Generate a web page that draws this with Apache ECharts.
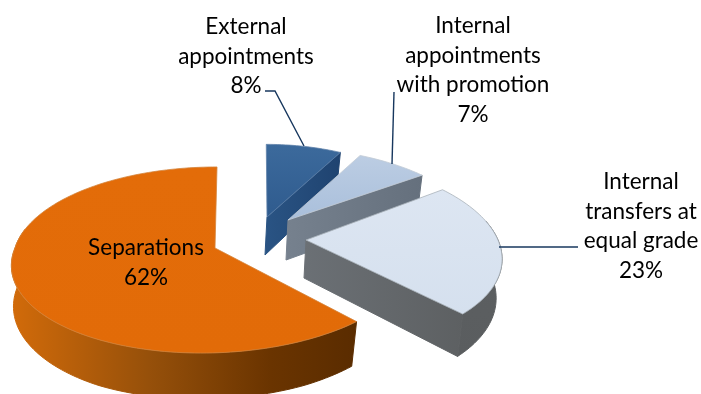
<!DOCTYPE html>
<html>
<head>
<meta charset="utf-8">
<title>Staff movements</title>
<style>
  html, body { margin: 0; padding: 0; background: #fff; }
  #chart { width: 701px; height: 394px; }
</style>
<script src="https://cdn.jsdelivr.net/npm/echarts@6/dist/echarts.min.js"></script>
</head>
<body>
<div id="chart"></div>
<script>
// Share of each movement type, clockwise from twelve o'clock.
const categories = ['External appointments', 'Internal appointments with promotion', 'Internal transfers at equal grade', 'Separations'];
const shares = [8, 7, 23, 62];
const labelLines = [
  ['External', 'appointments'],
  ['Internal', 'appointments', 'with promotion'],
  ['Internal', 'transfers at', 'equal grade'],
  ['Separations']
];

// Exploded-slice placement: apex, radii, extrusion depth and perspective lean.
const sliceLayout = [
  { ax: 267, ay: 217, rx: 171, ry: 82, depth: 38, lean: [0.01, 0.01] },
  { ax: 288, ay: 220, rx: 186, ry: 82, depth: 40, lean: [0.13, 0.13] },
  { ax: 306, ay: 240, rx: 192, ry: 92, depth: 38, lean: [0.157, 0.157] },
  { ax: 215, ay: 248, rx: 200, ry: 91.5, depth: 40, lean: [-0.025, -0.13] }
];
const labelLayout = [
  { x: 246, y: 27 },
  { x: 473, y: 26 },
  { x: 641, y: 182 },
  { x: 146, y: 248 }
];
const leaderPaths = [
  [[265, 91], [275, 91], [304, 146]],
  [[394, 92], [392, 164]],
  [[499, 247], [578, 247]],
  []
];
const sliceStyles = [
  { top: ['#3c6a9c', '#2f5b8e'], wall: ['#254c7a', '#254c7a'], radial: ['#2a5484', '#1f4370'], edge: '#5f82aa' },
  { top: ['#bccde3', '#a9bfdb'], wall: ['#6c7784', '#6c7784'], radial: ['#76818e', '#65707d'], edge: '#c3ccd6' },
  { top: ['#dde6f2', '#d5e0ee'], wall: ['#5d6062', '#5a5d5f'], radial: ['#6b7075', '#5d6062'], edge: '#aab2ba' },
  { top: ['#e36c09', '#e26b08'], wall: ['#d26b0a', '#5a2c00'], radial: ['#5a2c00', '#5a2c00'], edge: '#d4853e' }
];

const PERSPECTIVE = 0.129;
const LINE_HEIGHT = 29.5;
const WALL_FROM = 78;
const WALL_TO = 282;
const rad = d => d * Math.PI / 180;

// Start and end angle of every slice, in degrees clockwise from the top.
const total = shares.reduce((a, b) => a + b, 0);
const angles = [];
shares.reduce((acc, v) => {
  const next = acc + v / total * 360;
  angles.push([acc, next]);
  return next;
}, 0);

function project(layout, deg) {
  const u = Math.sin(rad(deg));
  const v = -Math.cos(rad(deg));
  const s = 1 / (1 - PERSPECTIVE * v);
  const dy = layout.ry * v * s;
  const lean = dy < 0 ? layout.lean[0] : layout.lean[1];
  return [layout.ax + layout.rx * u * s + lean * dy, layout.ay + dy];
}

function lower(layout, p) {
  const v = (p[1] - layout.ay) / layout.ry;
  const s = 1 / (1 - PERSPECTIVE * Math.max(-1, Math.min(1, v)));
  return [layout.ax - 2 + (p[0] - layout.ax) * 0.98, p[1] + layout.depth * s];
}

function arcPoints(layout, from, to) {
  const n = Math.max(2, Math.ceil(Math.abs(to - from) / 1.5));
  const pts = [];
  for (let i = 0; i <= n; i++) pts.push(project(layout, from + (to - from) * i / n));
  return pts;
}

function gradient(stops, x2, y2) {
  return new echarts.graphic.LinearGradient(0, 0, x2, y2, [
    { offset: 0, color: stops[0] },
    { offset: 1, color: stops[1] }
  ]);
}

function renderSlice(params, api) {
  const i = params.dataIndex;
  const layout = sliceLayout[i];
  const style = sliceStyles[i];
  const [a0, a1] = angles[i];
  const apex = [layout.ax, layout.ay];
  const children = [];

  // Outer curved wall, only where it faces the viewer.
  const wa = Math.max(a0, WALL_FROM);
  const wb = Math.min(a1, WALL_TO);
  if (wb > wa) {
    const arc = arcPoints(layout, wa, wb);
    const under = arc.map(p => lower(layout, p)).reverse();
    // The large slice's wall darkens steadily from its left edge to its right edge.
    const fill = i === 3
      ? new echarts.graphic.LinearGradient(0, 0, 1, 0, [
          { offset: 0, color: style.wall[0] },
          { offset: 0.4, color: '#96500a' },
          { offset: 0.75, color: '#6a3400' },
          { offset: 1, color: style.wall[1] }
        ])
      : gradient(style.wall, 0, 1);
    children.push({
      type: 'polygon',
      shape: { points: arc.concat(under) },
      style: { fill: fill, stroke: fill, lineWidth: 1 }
    });
  }

  // Cut face along the slice's trailing radius, visible on the right-hand slices.
  if (i < 3) {
    const end = project(layout, a1);
    const faceFill = gradient(style.radial, 1, 0);
    children.push({
      type: 'polygon',
      shape: { points: [apex, end, lower(layout, end), lower(layout, apex)] },
      style: { fill: faceFill, stroke: faceFill, lineWidth: 1 }
    });
  }

  // Top face.
  children.push({
    type: 'polygon',
    shape: { points: [apex].concat(arcPoints(layout, a0, a1)) },
    style: { fill: gradient(style.top, 0, 1), stroke: style.edge, lineWidth: 0.8 }
  });

  // Leader line and multi-line label.
  if (leaderPaths[i].length) {
    children.push({
      type: 'polyline',
      shape: { points: leaderPaths[i] },
      style: { fill: 'none', stroke: '#17375e', lineWidth: 1.4 }
    });
  }
  const lines = labelLines[i].concat([api.value(0) + '%']);
  lines.forEach((line, k) => {
    children.push({
      type: 'text',
      x: labelLayout[i].x,
      y: labelLayout[i].y + k * LINE_HEIGHT,
      style: {
        text: line,
        fill: '#000',
        font: '22.5px Lato, "Open Sans", sans-serif',
        align: 'center',
        verticalAlign: 'middle'
      }
    });
  });
  return { type: 'group', children: children };
}

const chart = echarts.init(document.getElementById('chart'), null, { renderer: 'canvas' });
chart.setOption({
  animation: false,
  backgroundColor: '#ffffff',
  series: [{
    type: 'custom',
    coordinateSystem: 'none',
    clip: false,
    silent: true,
    renderItem: renderSlice,
    data: shares.map((v, i) => ({ name: categories[i], value: [v] }))
  }]
});
</script>
</body>
</html>
